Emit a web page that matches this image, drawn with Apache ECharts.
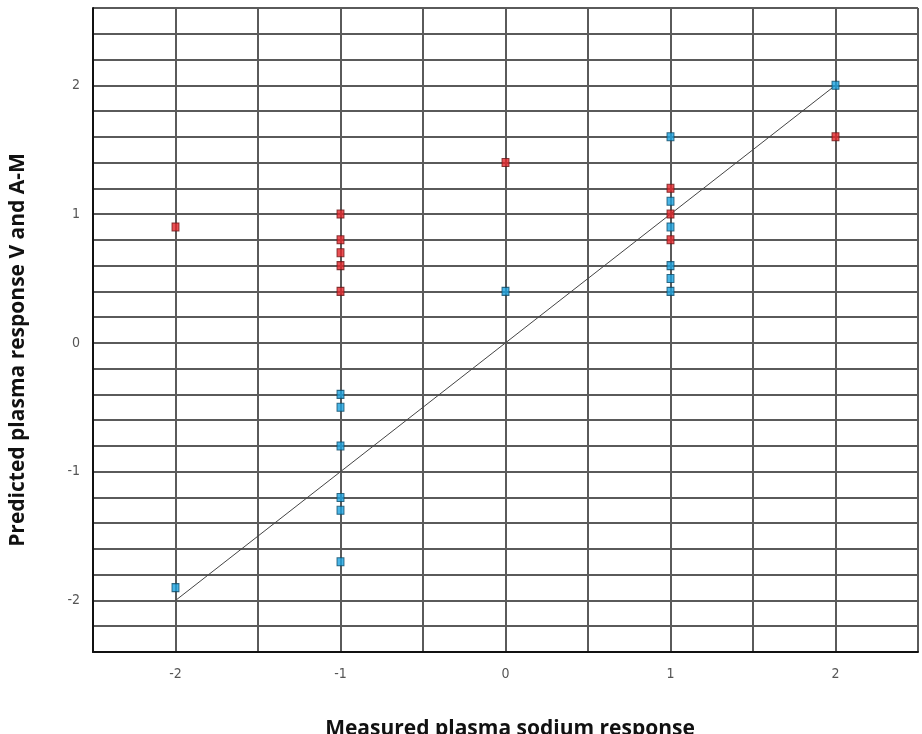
<!DOCTYPE html>
<html>
<head>
<meta charset="utf-8">
<script src="https://cdn.jsdelivr.net/npm/echarts@6/dist/echarts.min.js"></script>
<style>
html,body{margin:0;padding:0;background:#fff;}
#chart{width:922px;height:734px;}
</style>
</head>
<body>
<div id="chart"></div>
<script>
// Data
var redX = [-2, -1, -1, -1, -1, -1, 0, 1, 1, 1, 2];
var redY = [0.9, 1.0, 0.8, 0.7, 0.6, 0.4, 1.4, 1.2, 1.0, 0.8, 1.6];
var blueX = [-2, -1, -1, -1, -1, -1, -1, 0, 1, 1, 1, 1, 1, 1, 2];
var blueY = [-1.9, -0.4, -0.5, -0.8, -1.2, -1.3, -1.7, 0.4, 1.6, 1.1, 0.9, 0.6, 0.5, 0.4, 2.0];
var lineX = [-2, 2];
var lineY = [-2, 2];
var xTitle = 'Measured plasma sodium response';
var yTitle = 'Predicted plasma response V and A-M';

function zip(a, b) { return a.map(function (v, i) { return [v, b[i]]; }); }
function intOnly(v) {
  var r = Math.round(v);
  return Math.abs(v - r) < 1e-6 ? String(r) : '';
}

var labelFont = "'Liberation Sans Narrow', 'DejaVu Sans Condensed', 'Liberation Sans', sans-serif";
var titleFont = "'Open Sans', 'Noto Sans', sans-serif";

var chart = echarts.init(document.getElementById('chart'));
chart.setOption({
  animation: false,
  backgroundColor: '#ffffff',
  grid: { left: 93, right: 4, top: 8, bottom: 82, containLabel: false, outerBoundsMode: 'none' },
  xAxis: {
    type: 'value', min: -2.5, max: 2.5, interval: 0.5,
    axisLine: { show: true, onZero: false, lineStyle: { color: '#111', width: 2 } },
    axisTick: { show: false },
    axisLabel: { formatter: intOnly, color: '#555', fontSize: 14, fontFamily: labelFont, margin: 15 },
    splitLine: { show: true, lineStyle: { color: '#5a5a5a', width: 2 } }
  },
  yAxis: {
    type: 'value', min: -2.4, max: 2.6, interval: 0.2,
    axisLine: { show: true, onZero: false, lineStyle: { color: '#111', width: 2 } },
    axisTick: { show: false },
    axisLabel: { formatter: intOnly, color: '#555', fontSize: 14, fontFamily: labelFont, margin: 13 },
    splitLine: { show: true, lineStyle: { color: '#5a5a5a', width: 2 } }
  },
  graphic: [
    {
      type: 'text', x: 510, y: 719,
      style: { text: xTitle, fill: '#111', font: "bold 21px " + titleFont, textAlign: 'center', textVerticalAlign: 'top' }
    },
    {
      type: 'text', x: 18, y: 350, rotation: Math.PI / 2,
      style: { text: yTitle, fill: '#111', font: "bold 21px " + titleFont, textAlign: 'center', textVerticalAlign: 'middle' }
    }
  ],
  series: [
    {
      type: 'line', data: zip(lineX, lineY), symbol: 'none', silent: true,
      lineStyle: { color: '#444', width: 1 }, z: 2
    },
    {
      type: 'scatter', data: zip(redX, redY), symbol: 'rect', symbolSize: [7, 8],
      itemStyle: { color: '#e3262a', borderColor: '#6a1515', borderWidth: 1 }, z: 3
    },
    {
      type: 'scatter', data: zip(blueX, blueY), symbol: 'rect', symbolSize: [7, 8],
      itemStyle: { color: '#1ba3e0', borderColor: '#0c4a66', borderWidth: 1 }, z: 3
    }
  ]
});
</script>
</body>
</html>
